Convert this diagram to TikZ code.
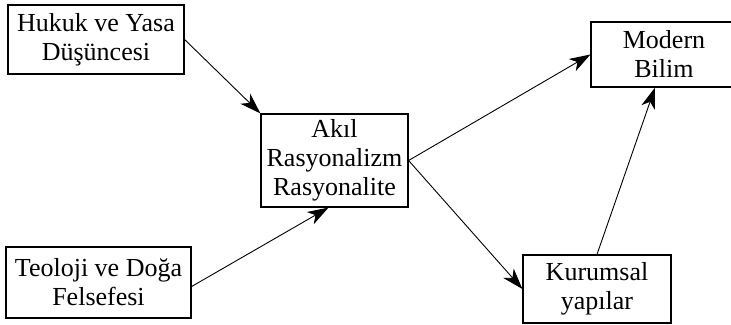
\documentclass[tikz,border=0pt]{standalone}
\usepackage{fontspec}
\setmainfont{Liberation Serif}
\usetikzlibrary{arrows.meta}
\begin{document}
\begin{tikzpicture}[x=1bp,y=-1bp,
  box/.style={draw,line width=1.2bp,inner sep=0pt,align=center,
    font=\fontsize{26bp}{29bp}\selectfont},
  link/.style={line width=0.9bp,-{Stealth[length=21bp,width=14bp,inset=6bp]}}]
\useasboundingbox (0,0) rectangle (731,324);
\node[box,minimum width=176bp,minimum height=69bp] (h) at (96,39.5) {Hukuk ve Yasa\\Düşüncesi};
\node[box,minimum width=147bp,minimum height=93bp] (a) at (334.5,160.5) {Akıl\\Rasyonalizm\\Rasyonalite};
% the right side of this box lies just past the edge of the page
\node[box,minimum width=146bp,minimum height=65bp] (m) at (664,54.5) {Modern\\Bilim};
\node[box,minimum width=185bp,minimum height=71bp] (t) at (98.5,282.5) {Teoloji ve Doğa\\Felsefesi};
\node[box,minimum width=148bp,minimum height=68bp] (k) at (597,289) {Kurumsal\\yapılar};
\draw[link] (h.east) -- (a.north west);
\draw[link] ([yshift=-4bp]t.east) -- ([xshift=-6bp]a.south);
\draw[link] (a.east) -- (m.west);
\draw[link] (a.east) -- (k.west);
\draw[link] (k.north) -- ([xshift=-9bp]m.south);
\end{tikzpicture}
\end{document}
